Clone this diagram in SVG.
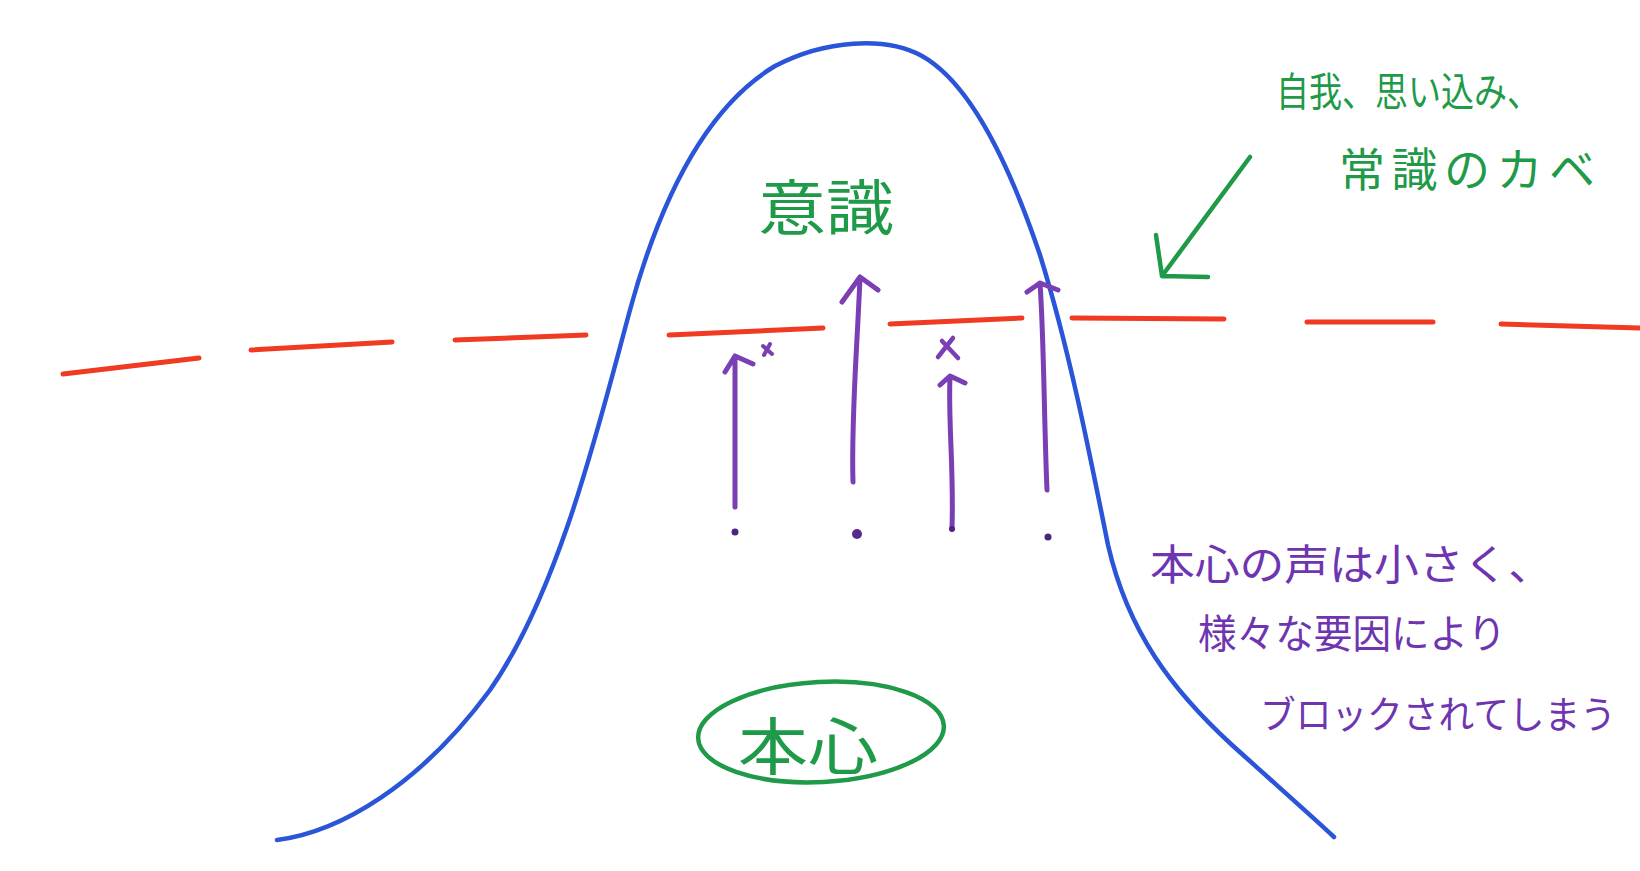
<svg xmlns="http://www.w3.org/2000/svg" width="1640" height="871" viewBox="0 0 1640 871">
<style>
.blue{fill:none;stroke:#2a55d8;stroke-width:4.5;stroke-linecap:round;stroke-linejoin:round}
.red{fill:none;stroke:#f03a22;stroke-width:5;stroke-linecap:round}
.pur{fill:none;stroke:#7b3fb5;stroke-width:5;stroke-linecap:round;stroke-linejoin:round}
.grn{fill:none;stroke:#1f9a48;stroke-width:4.5;stroke-linecap:round;stroke-linejoin:round}
.gt{font-family:"Noto Sans CJK JP","Noto Sans CJK SC",sans-serif;fill:#1f9a48}
.pt{font-family:"Noto Sans CJK JP","Noto Sans CJK SC",sans-serif;fill:#6f35b0}
</style>
<rect width="1640" height="871" fill="#ffffff"/>
<g id="mountain">
<path class="blue" d="M277,840 C340,832 420,785 490,690 C560,590 600,420 630,310 C660,200 705,108 775,66 C825,40 885,36 922,56 C972,84 1012,172 1040,255 C1068,345 1088,445 1108,545 C1128,632 1172,690 1232,745 C1282,790 1316,820 1334,837"/>
</g>
<g id="wall-line">
<path class="red" d="M63,374 L199,358 M251,350 L392,342 M455,340 L586,335 M669,335 L823,328 M890,324 L1022,318 M1072,318 L1224,319 M1307,322 L1433,322 M1501,324 L1640,328"/>
</g>
<g id="connectors">
<path class="pur" d="M735,507 L735,356 M725,372 L735,356 L753,364"/>
<circle cx="735" cy="532" r="3.5" fill="#4b2480"/>
<path class="pur" d="M763,346 L772,354 M770,344 L764,355" style="stroke-width:4"/>
<path class="pur" d="M853,482 C851,420 857,350 860,278 M842,302 L860,277 L878,290"/>
<circle cx="857" cy="534" r="5" fill="#5a2a90"/>
<path class="pur" d="M942,341 L958,358 M953,338 L938,357" style="stroke-width:4.5"/>
<path class="pur" d="M952,528 C954,470 948,420 950,377 M940,385 L950,376 L965,383"/>
<circle cx="952" cy="529" r="3" fill="#4b2480"/>
<path class="pur" d="M1047,490 C1044,420 1044,340 1040,283 M1027,292 L1040,283 L1058,290"/>
<circle cx="1048" cy="537" r="3.5" fill="#4b2480"/>
<path class="grn" d="M1250,157 L1162,276 M1156,235 L1162,276 L1208,277"/>
</g>
<g id="ishiki">
<text class="gt" x="758" y="230" font-size="60" textLength="136" lengthAdjust="spacingAndGlyphs">意識</text>
</g>
<g id="honshin">
<ellipse class="grn" cx="821" cy="732" rx="123" ry="50" transform="rotate(-3 821 732)"/>
<text class="gt" x="738" y="770" font-size="62" textLength="140" lengthAdjust="spacingAndGlyphs">本心</text>
</g>
<g id="wall-label">
<text class="gt" x="1276" y="106" font-size="40" textLength="264" lengthAdjust="spacingAndGlyphs">自我、思い込み、</text>
<text class="gt" x="1339" y="186" font-size="46" textLength="256" lengthAdjust="spacing">常識のカベ</text>
</g>
<g id="honshin-label">
<text class="pt" x="1150" y="580" font-size="42" textLength="403" lengthAdjust="spacingAndGlyphs">本心の声は小さく、</text>
<text class="pt" x="1198" y="648" font-size="40" textLength="308" lengthAdjust="spacingAndGlyphs">様々な要因により</text>
<text class="pt" x="1260" y="728" font-size="38" textLength="356" lengthAdjust="spacingAndGlyphs">ブロックされてしまう</text>
</g>
</svg>
